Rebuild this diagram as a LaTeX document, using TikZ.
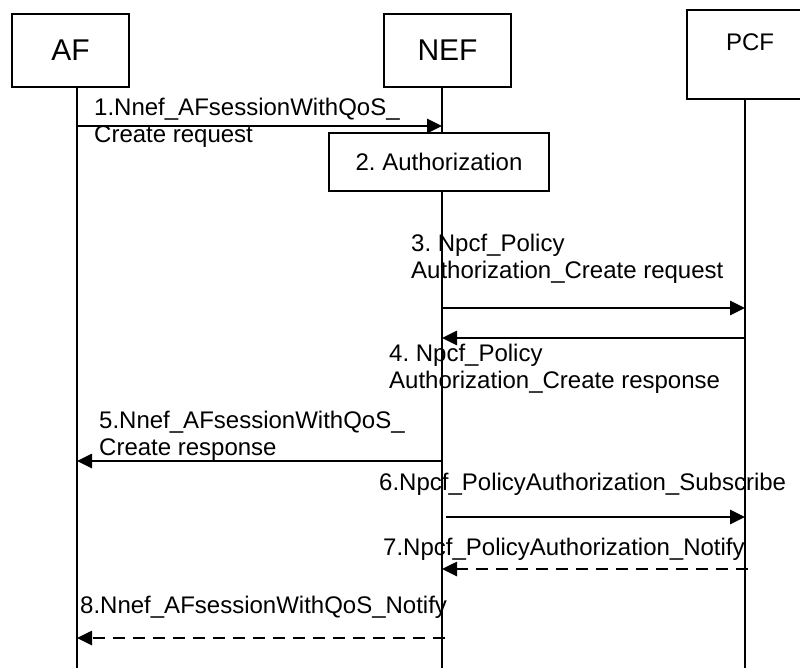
\documentclass[tikz,border=0pt]{standalone}
\usepackage{fontspec}
\setmainfont{Liberation Sans}
\usetikzlibrary{arrows.meta}
\frenchspacing

\tikzset{
  entity/.style={rectangle, draw, line width=1.6pt, fill=white, inner sep=0pt,
    font=\fontsize{30}{34}\selectfont},
  lifeline/.style={line width=1.8pt},
  msg/.style={line width=2.6pt, -{Triangle[length=15pt,width=14pt]}},
  notifymsg/.style={msg, dash pattern=on 12pt off 8pt},
  msglabel/.style={font=\fontsize{24}{27}\selectfont, align=left, inner sep=0pt,
    anchor=base west}
}

\begin{document}
\begin{tikzpicture}[x=1pt, y=-1pt]
\clip (0,0) rectangle (800,668);
% Lifelines
\coordinate (afTop) at (77,87);
\coordinate (afEnd) at (77,668);
\coordinate (nefTop) at (442,87);
\coordinate (nefEnd) at (442,668);
\coordinate (pcfTop) at (745,99);
\coordinate (pcfEnd) at (745,668);
\draw[lifeline] (afTop) -- (afEnd);
\draw[lifeline] (nefTop) -- (nefEnd);
\draw[lifeline] (pcfTop) -- (pcfEnd);

% Entities
\node[entity, minimum width=117pt, minimum height=73pt] (af) at (70.5,50.5) {AF};
\node[entity, minimum width=127pt, minimum height=73pt] (nef) at (447.5,50.5) {NEF};
\node[entity, minimum width=126pt, minimum height=89pt, font=\fontsize{24}{28}\selectfont,
  text height=17pt, text depth=25pt] (pcf) at (750,54.5) {PCF};
\node[entity, minimum width=220pt, minimum height=58pt, font=\fontsize{24}{28}\selectfont]
  (auth) at (439,162) {2. Authorization};

% Messages
\draw[msg] (afTop |- 0,126) -- (nefTop |- 0,126);
\draw[msg] (nefTop |- 0,308) -- (pcfTop |- 0,308);
\draw[msg] (pcfTop |- 0,338) -- (nefTop |- 0,338);
\draw[msg] (nefTop |- 0,461) -- (afTop |- 0,461);
\draw[msg, shorten <=4pt] (nefTop |- 0,517) -- (pcfTop |- 0,517);
\draw[notifymsg, shorten <=-3pt] (pcfTop |- 0,569) -- (nefTop |- 0,569);
\draw[notifymsg, shorten <=-3pt] (nefTop |- 0,638) -- (afTop |- 0,638);

% Message labels (base = last line)
\node[msglabel] (lbl1) at (94,143) {1.Nnef\_AFsessionWithQoS\_\\Create request};
\node[msglabel] (lbl3) at (411,278) {3. Npcf\_Policy\\Authorization\_Create request};
\node[msglabel] (lbl4) at (389,388) {4. Npcf\_Policy\\Authorization\_Create response};
\node[msglabel] (lbl5) at (99,455) {5.Nnef\_AFsessionWithQoS\_\\Create response};
\node[msglabel] (lbl6) at (379,490) {6.Npcf\_PolicyAuthorization\_Subscribe};
\node[msglabel] (lbl7) at (383,555) {7.Npcf\_PolicyAuthorization\_Notify};
\node[msglabel] (lbl8) at (80,613) {8.Nnef\_AFsessionWithQoS\_Notify};
\end{tikzpicture}
\end{document}
